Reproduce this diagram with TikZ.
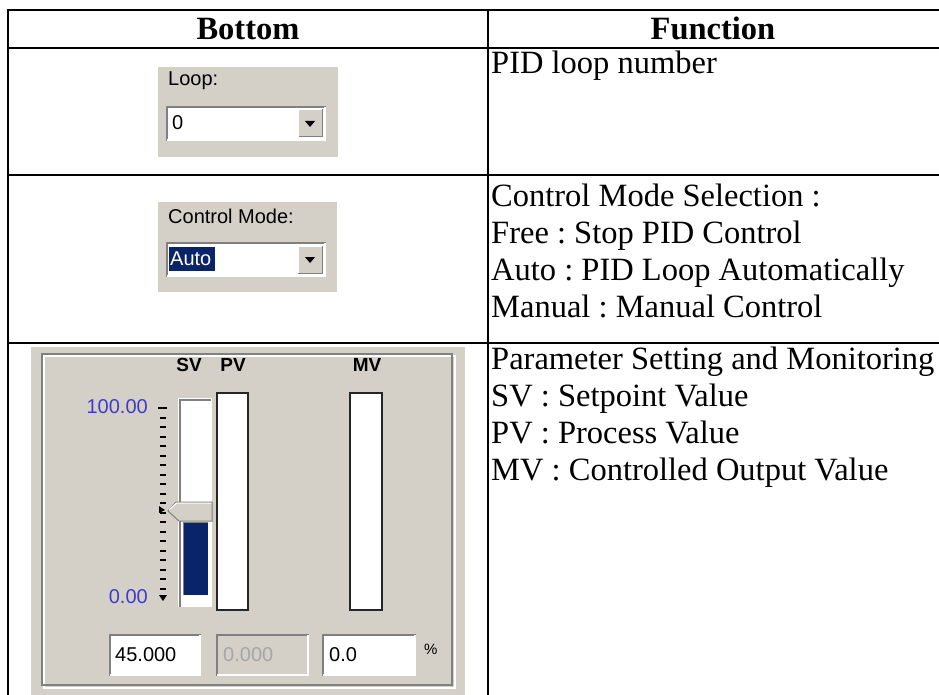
\documentclass[tikz,border=0pt]{standalone}
\usepackage{fontspec}
\setmainfont{Liberation Serif}
\newfontfamily\uifont{Liberation Sans}
\frenchspacing

\definecolor{winface}{RGB}{212,208,200}
\definecolor{winshadow}{RGB}{128,128,128}
\definecolor{selblue}{RGB}{10,36,106}
\definecolor{scaleblue}{RGB}{60,60,200}

\tikzset{
    rule/.style={line width=2.2pt},
    celltext/.style={anchor=base west, inner sep=0pt, font=\fontsize{32.5}{37}\selectfont},
    headtext/.style={anchor=base, inner sep=0pt, font=\fontsize{32.5}{37}\selectfont\bfseries},
    uitext/.style={anchor=west, inner sep=0pt, font=\uifont\fontsize{20}{24}\selectfont},
    barlabel/.style={inner sep=0pt, font=\uifont\fontsize{19}{22}\selectfont\bfseries},
    sunken/.style={fill=white, draw=winshadow, line width=1.5pt},
    raised/.style={fill=winface, draw=winshadow, line width=1pt},
    bar/.style={fill=white, draw=black!85, line width=2pt},
}

\begin{document}
\begin{tikzpicture}[x=1pt,y=-1pt]
    \useasboundingbox (0,0) rectangle (939,695);

    \draw[rule] (8,695) -- (8,10) -- (939,10);
    \draw[rule] (488,10) -- (488,695);
    \foreach \y in {48,175,343}
        \draw[rule] (7,\y) -- (939,\y);

    \node[headtext] (head-bottom) at (248,40) {Bottom};
    \node[headtext] (head-function) at (713,40) {Function};

    \node[celltext] (loop-info) at (491,74) {PID loop number};
    \foreach \txt [count=\i] in {Control Mode Selection :, Free : Stop PID Control,
            Auto : PID Loop Automatically, Manual : Manual Control}
        \node[celltext] (mode-info-\i) at (491,{206+37*(\i-1)}) {\txt};
    \foreach \txt [count=\i] in {Parameter Setting and Monitoring, SV : Setpoint Value,
            PV : Process Value, MV : Controlled Output Value}
        \node[celltext] (param-info-\i) at (491,{369+37*(\i-1)}) {\txt};

    % loop box
    \fill[winface] (158,67) rectangle (338,157);
    \node[uitext] (loop-label) at (168,81) {Loop:};
    \filldraw[sunken] (167,107) rectangle (325,140);
    \draw[white, line width=1.5pt] (167,140) -| (325,107);
    \filldraw[raised] (298,110) rectangle (322,137);
    \draw[white, line width=1pt] (298,137) |- (322,110);
    \fill (305,121) -- (315,121) -- (310,127) -- cycle;
    \node[uitext] (loop-value) at (172,123) {0};

    % control mode box
    \fill[winface] (158,202) rectangle (337,292);
    \node[uitext] (mode-label) at (168,216) {Control Mode:};
    \filldraw[sunken] (167,243) rectangle (325,276);
    \draw[white, line width=1.5pt] (167,276) -| (325,243);
    \fill[selblue] (169,247) rectangle (215,271);
    \node[uitext, text=white] (mode-value) at (170,259) {Auto};
    \filldraw[raised] (298,246) rectangle (322,273);
    \draw[white, line width=1pt] (298,273) |- (322,246);
    \fill (305,257) -- (315,257) -- (310,263) -- cycle;

    % sv / pv / mv panel
    \fill[winface] (31,347) rectangle (465,695);
    \draw[white, line width=1.5pt] (44,356) rectangle (455,688);
    \draw[winshadow, line width=1.5pt] (42,354) rectangle (452,685);

    \node[barlabel] (sv-label) at (189,365) {SV};
    \node[barlabel] (pv-label) at (233,365) {PV};
    \node[barlabel] (mv-label) at (367,365) {MV};

    \node[uitext, anchor=east, text=scaleblue] (scale-top) at (148,407) {100.00};
    \node[uitext, anchor=east, text=scaleblue] (scale-bottom) at (148,597) {0.00};
    \foreach \k in {1,...,19}
        \draw[line width=2pt] (160,{408+9.5*\k}) -- (166,{408+9.5*\k});
    \draw[line width=2pt] (158,408) -- (167,408);
    \fill (159,595) -- (167,595) -- (163,601) -- cycle;
    \fill (159,506) -- (165,510) -- (159,513) -- cycle;

    \fill[white] (178,398) rectangle (212,607);
    \draw[winshadow, line width=2.5pt] (180,607) -- (180,400) -- (211,400);
    \draw[winshadow, line width=1pt] (183,595) -- (183,522) -- (208,522);
    \fill[selblue] (184,523) rectangle (208,595);
    \filldraw[fill=winface, draw=winshadow, line width=1pt]
        (168,511) -- (176,502) -- (212,502) -- (212,521) -- (179,521) -- cycle;
    \draw[white, line width=1pt] (169,510) -- (176.5,503) -- (211,503);

    \filldraw[bar] (217,393) rectangle (248,610);
    \filldraw[bar] (350,393) rectangle (382,610);

    \filldraw[sunken] (110,635) rectangle (200,675);
    \draw[white, line width=1.5pt] (110,675) -| (200,635);
    \node[uitext] (sv-value) at (115,655) {45.000};
    \filldraw[sunken, fill=winface] (217,635) rectangle (308,675);
    \draw[white, line width=1.5pt] (217,675) -| (308,635);
    \node[uitext, text=winshadow!70] (pv-value) at (223,655) {0.000};
    \filldraw[sunken] (323,635) rectangle (415,675);
    \draw[white, line width=1.5pt] (323,675) -| (415,635);
    \node[uitext] (mv-value) at (329,655) {0.0};
    \node[uitext, font=\uifont\fontsize{15}{18}\selectfont] (unit) at (424,649) {\%};
\end{tikzpicture}
\end{document}
